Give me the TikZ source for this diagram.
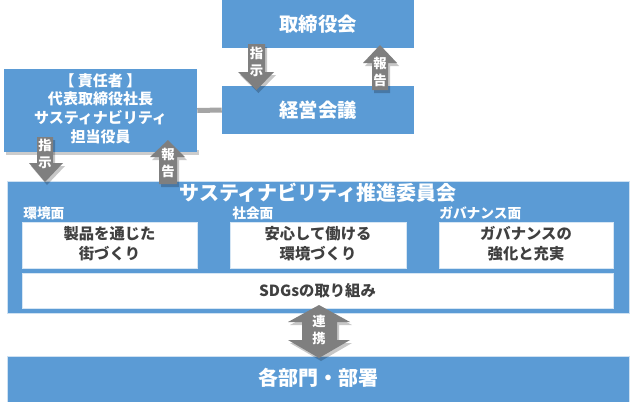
\documentclass[tikz,border=0pt]{standalone}
\usepackage{fontspec}
\setmainfont{Noto Sans CJK JP}
\definecolor{bblue}{HTML}{5B9BD5}
\definecolor{agray}{HTML}{7F7F7F}
\definecolor{lgray}{HTML}{A5A5A5}
\definecolor{dtext}{HTML}{404040}
\newdimen\upx \upx=0.75pt
\begin{document}
\begin{tikzpicture}[x=0.75pt,y=-0.75pt,
 bluebox/.style={fill=bblue, inner sep=0pt, text=white, font=\bfseries\fontsize{14.5}{17}\selectfont, align=center},
 whitebox/.style={fill=white, draw=white!75!bblue, line width=0.6pt, inner sep=0pt, text=dtext, font=\bfseries\fontsize{11.5}{15}\selectfont, align=center},
 sidelbl/.style={text=white, font=\bfseries\fontsize{10.3}{12}\selectfont, inner sep=0pt, anchor=west},
 arrowlbl/.style={text=white, font=\bfseries\fontsize{10}{12.75}\selectfont, align=center, inner sep=0pt},
 blockarrow/.style={fill=agray},
 arrowshadow/.style={fill=black, opacity=0.22},
]
\useasboundingbox (0,0) rectangle (630,401);
\fill[white] (0,0) rectangle (630,401);

% boxes
\node[bluebox, minimum width=192\upx, minimum height=48\upx] (board) at (318,24) {\raisebox{1pt}{取締役会}};
\node[bluebox, minimum width=192\upx, minimum height=48\upx] (keiei) at (318,110) {経営会議};
\fill[black, opacity=0.2] (6,150) rectangle (199,155);
\node[bluebox, minimum width=193\upx, minimum height=83\upx, font=\bfseries\fontsize{11.25}{14.25}\selectfont] (lead) at (100.5,110.5) {\raisebox{1.5pt}{\begin{tabular}{@{}c@{}}【 責任者 】\\[-0.5pt]代表取締役社長\\サスティナビリティ\\担当役員\end{tabular}}};
\draw[lgray, line width=5\upx] (lead.east) -- (keiei.west);

\node[bluebox, draw=white!70!bblue, line width=0.6pt, minimum width=622\upx, minimum height=132\upx] (comm) at (318,247) {};
\node[text=white, font=\bfseries\fontsize{15}{17}\selectfont, inner sep=0pt] (commtitle) at (318,193) {サスティナビリティ推進委員会};
\node[sidelbl] (l1) at (23,213) {環境面};
\node[sidelbl] (l2) at (232,213) {社会面};
\node[sidelbl] (l3) at (439,213) {ガバナンス面};
\node[whitebox, minimum width=175\upx, minimum height=46\upx] (w1) at (109.5,245) {\raisebox{1.5pt}{\begin{tabular}{@{}c@{}}製品を通じた\\街づくり\end{tabular}}};
\node[whitebox, minimum width=176\upx, minimum height=46\upx] (w2) at (318,245) {\raisebox{1.5pt}{\begin{tabular}{@{}c@{}}安心して働ける\\環境づくり\end{tabular}}};
\node[whitebox, minimum width=174\upx, minimum height=46\upx] (w3) at (526,245) {\raisebox{1.5pt}{\begin{tabular}{@{}c@{}}ガバナンスの\\強化と充実\end{tabular}}};
\node[whitebox, minimum width=591\upx, minimum height=35\upx] (sdg) at (317.5,290.5) {SDGsの取り組み};

\node[bluebox, draw=white!70!bblue, line width=0.6pt, minimum width=622\upx, minimum height=46\upx, font=\bfseries\fontsize{15}{17}\selectfont] (dept) at (318,379) {\raisebox{4pt}{各部門・部署}};

% block arrows: shadows
\begin{scope}[shift={(2,3)}]
\fill[arrowshadow] (248,44) -- (265,44) -- (265,72) -- (274,72) -- (256.5,90) -- (238,72) -- (248,72) -- cycle;
\fill[arrowshadow] (372,90) -- (388,90) -- (388,63) -- (397,63) -- (380,45) -- (363,63) -- (372,63) -- cycle;
\fill[arrowshadow] (37,137) -- (53,137) -- (53,163) -- (63,163) -- (45,182) -- (29,163) -- (37,163) -- cycle;
\fill[arrowshadow] (159,184) -- (177,184) -- (177,157) -- (185,157) -- (168,140) -- (150,157) -- (159,157) -- cycle;
\fill[arrowshadow] (319,305) -- (350,322) -- (337,322) -- (337,340) -- (350,340) -- (319,358) -- (288,340) -- (302,340) -- (302,322) -- (288,322) -- cycle;
\end{scope}
% block arrows
\fill[blockarrow] (248,44) -- (265,44) -- (265,72) -- (274,72) -- (256.5,90) -- (238,72) -- (248,72) -- cycle;
\fill[blockarrow] (372,90) -- (388,90) -- (388,63) -- (397,63) -- (380,45) -- (363,63) -- (372,63) -- cycle;
\fill[blockarrow] (37,137) -- (53,137) -- (53,163) -- (63,163) -- (45,182) -- (29,163) -- (37,163) -- cycle;
\fill[blockarrow] (159,184) -- (177,184) -- (177,157) -- (185,157) -- (168,140) -- (150,157) -- (159,157) -- cycle;
\fill[blockarrow] (319,305) -- (350,322) -- (337,322) -- (337,340) -- (350,340) -- (319,358) -- (288,340) -- (302,340) -- (302,322) -- (288,322) -- cycle;

\node[arrowlbl] (a1) at (256.5,61.5) {指\\示};
\node[arrowlbl] (a2) at (380,71.5) {報\\告};
\node[arrowlbl] (a3) at (45,153.5) {指\\示};
\node[arrowlbl] (a4) at (168,163) {報\\告};
\node[arrowlbl] (a5) at (319,330) {連\\携};
\end{tikzpicture}
\end{document}
